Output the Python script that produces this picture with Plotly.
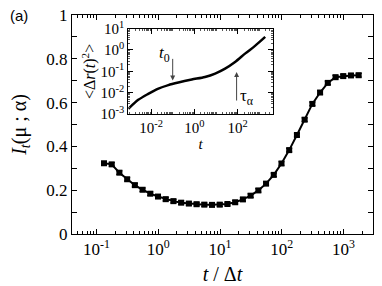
import plotly.graph_objects as go
import numpy as np

# main data
t_main = [0.132, 0.176, 0.234, 0.313, 0.417, 0.556, 0.741, 0.989, 1.318, 1.758,
          2.344, 3.126, 4.169, 5.559, 7.413, 9.886, 13.18, 17.58, 23.44, 31.26,
          41.69, 55.59, 74.13, 98.86, 131.8, 175.8, 234.4, 312.6, 416.9, 555.9,
          741.3, 988.6, 1318.0, 1758.0]
I_main = [0.323, 0.318, 0.280, 0.250, 0.223, 0.202, 0.184, 0.171, 0.159, 0.150,
          0.143, 0.139, 0.136, 0.134, 0.133, 0.134, 0.137, 0.145, 0.158, 0.175,
          0.199, 0.230, 0.270, 0.322, 0.383, 0.452, 0.522, 0.594, 0.646, 0.690,
          0.716, 0.721, 0.724, 0.725]
I_err = [0.008] * len(t_main)

# inset data (MSD)
t_inset = [8.91e-4, 2.57e-3, 7.41e-3, 2.19e-2, 6.31e-2, 0.182, 0.759, 3.09,
           9.12, 26.3, 75.9, 219.0, 631.0, 1862.0]
msd_inset = [1.78e-3, 4.68e-3, 8.91e-3, 1.58e-2, 2.29e-2, 3.02e-2, 4.17e-2, 5.50e-2,
             7.94e-2, 0.135, 0.275, 0.676, 1.55, 4.07]

main_xticks = [0.1, 1, 10, 100, 1000]
main_xticktext = ["10<sup>-1</sup>", "10<sup>0</sup>", "10<sup>1</sup>", "10<sup>2</sup>", "10<sup>3</sup>"]
main_yticks = [0, 0.2, 0.4, 0.6, 0.8, 1]
main_yticktext = ["0", "0.2", "0.4", "0.6", "0.8", "1"]
inset_xticks = [1e-2, 1, 1e2]
inset_xticktext = ["10<sup>-2</sup>", "10<sup>0</sup>", "10<sup>2</sup>"]
inset_yticks = [1e-3, 1e-2, 1e-1, 1, 10]
inset_yticktext = ["10<sup>-3</sup>", "10<sup>-2</sup>", "10<sup>-1</sup>", "10<sup>0</sup>", "10<sup>1</sup>"]

serif = "Liberation Serif, Times New Roman, DejaVu Serif, serif"

main_minor_x = [m * 10.0 ** e for e in range(-2, 4) for m in range(2, 10)]
inset_minor_x = [m * 10.0 ** e for e in range(-4, 4) for m in range(1, 10)]
inset_minor_y = [m * 10.0 ** e for e in range(-4, 2) for m in range(2, 10)]

fig = go.Figure()
fig.add_trace(go.Scatter(
    x=t_main, y=I_main, mode="lines+markers",
    line=dict(color="black", width=2),
    marker=dict(symbol="square", size=6, color="black"),
    error_y=dict(type="data", array=I_err, color="black", thickness=1.2, width=3),
    xaxis="x", yaxis="y", showlegend=False))
fig.add_trace(go.Scatter(
    x=t_inset, y=msd_inset, mode="lines", line=dict(color="black", width=2.5, shape="spline", smoothing=0.8),
    xaxis="x2", yaxis="y2", showlegend=False))

fig.update_layout(
    width=382, height=286,
    margin=dict(l=64, r=17, t=7, b=60),
    paper_bgcolor="white", plot_bgcolor="white",
    font=dict(family=serif, color="black", size=17),
    xaxis=dict(type="log", range=[np.log10(0.04), np.log10(3000)], domain=[0, 1],
               tickvals=main_xticks, ticktext=main_xticktext, automargin=False,
               ticklabeloverflow="allow",
               ticks="inside", ticklen=5, tickcolor="black", showline=True, linecolor="black",
               linewidth=1, mirror="ticks", showgrid=False, zeroline=False,
               tickfont=dict(size=17, family=serif),
               minor=dict(tickvals=main_minor_x, ticks="inside", ticklen=3, tickcolor="black", showgrid=False),
               title=dict(text="<i>t</i> / Δ<i>t</i>", font=dict(size=20, family=serif), standoff=8)),
    yaxis=dict(range=[0, 1], domain=[0, 1], automargin=False,
               ticklabeloverflow="allow",
               tickvals=main_yticks, ticktext=main_yticktext,
               ticks="inside", ticklen=5, tickcolor="black", showline=True, linecolor="black",
               linewidth=1, mirror="ticks", showgrid=False, zeroline=False,
               tickfont=dict(size=17, family=serif),
               minor=dict(dtick=0.1, ticks="inside", ticklen=5, tickcolor="black", showgrid=False),
               title=dict(text="<i>I</i><sub><i>t</i></sub>(μ ; α)", font=dict(size=20, family=serif), standoff=26)),
    xaxis2=dict(type="log", range=[-3.05, 3.62], domain=[0.187, 0.667], anchor="y2", automargin=False,
                ticklabeloverflow="allow",
                tickvals=inset_xticks, ticktext=inset_xticktext,
                ticks="inside", ticklen=5, tickcolor="black", showline=True, linecolor="black",
                linewidth=1, mirror="ticks", showgrid=False, zeroline=False,
                tickfont=dict(size=15, family=serif),
                minor=dict(tickvals=inset_minor_x, ticks="inside", ticklen=2, tickcolor="#555", showgrid=False),
                title=dict(text="<i>t</i>", font=dict(size=15, family=serif), standoff=0)),
    yaxis2=dict(type="log", range=[-3, 1], domain=[0.547, 0.938], anchor="x2", automargin=False,
                ticklabeloverflow="allow",
                tickvals=inset_yticks, ticktext=inset_yticktext,
                ticks="inside", ticklen=5, tickcolor="black", showline=True, linecolor="black",
                linewidth=1, mirror="ticks", showgrid=False, zeroline=False,
                tickfont=dict(size=15, family=serif),
                minor=dict(tickvals=inset_minor_y, ticks="inside", ticklen=2, tickcolor="#555", showgrid=False),
                title=dict(text="&lt;Δ<i>r</i>(<i>t</i>)<sup>2</sup>&gt;", font=dict(size=16, family=serif), standoff=0)),
)

fig.add_annotation(x=-1.0, y=-1.42, xref="x2", yref="y2", text="", showarrow=True,
                   ax=0, ay=-23, arrowhead=2, arrowsize=1, arrowwidth=1, arrowcolor="#444")
fig.add_annotation(x=-1.40, y=-0.20, xref="x2", yref="y2",
                   text="<i>t</i><sub>0</sub>", showarrow=False, font=dict(size=17, family=serif))
fig.add_annotation(x=1.95, y=-1.03, xref="x2", yref="y2", text="", showarrow=True,
                   ax=0, ay=30, arrowhead=2, arrowsize=1, arrowwidth=1, arrowcolor="#444")
fig.add_annotation(x=2.42, y=-2.21, xref="x2", yref="y2",
                   text="τ<sub>α</sub>", showarrow=False, font=dict(size=17, family=serif))
fig.add_annotation(x=-64 / 301, y=1.0, xref="paper", yref="paper", xanchor="left", yanchor="middle",
                   text="(a)", showarrow=False, font=dict(size=15, family="Liberation Sans, Arial, sans-serif"))

fig.write_html("out.html")
